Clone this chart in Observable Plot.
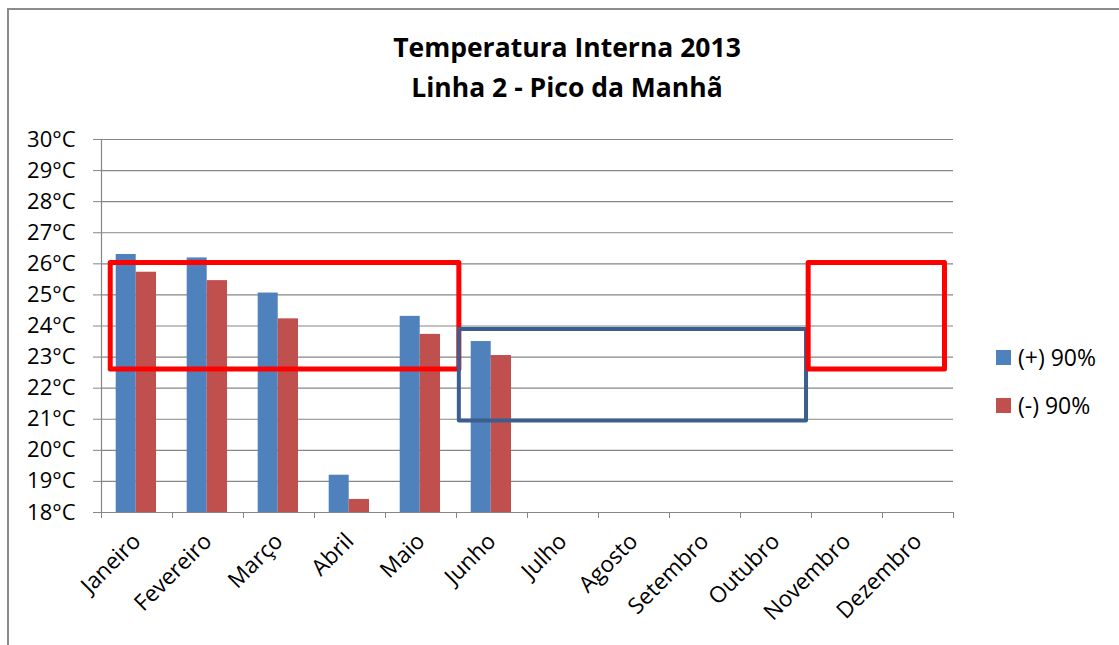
<!DOCTYPE html>
<html>
<head>
<meta charset="utf-8">
<script src="https://cdn.jsdelivr.net/npm/d3@7"></script>
<script src="https://cdn.jsdelivr.net/npm/@observablehq/plot@0.6"></script>
<style>
  html, body { margin: 0; padding: 0; background: #fff; }
  #wrap { position: relative; width: 1119px; height: 645px; overflow: hidden; font-family: "Open Sans", "Noto Sans", sans-serif; }
  #border { position: absolute; left: 7px; top: 8px; width: 1200px; height: 700px; border-left: 2px solid #8c8c8c; border-top: 2px solid #8c8c8c; }
  .title { position: absolute; left: 0; width: 1134px; text-align: center; font-weight: bold; font-size: 26.5px; line-height: 32px; color: #000; }
  .leg { position: absolute; left: 996px; font-size: 23px; color: #000; }
  .leg span.sw { position: absolute; left: 0; width: 15px; height: 15px; }
  .leg span.tx { position: absolute; left: 22px; white-space: nowrap; line-height: 24px; }
  #chart { position: absolute; left: 0; top: 0; }
</style>
</head>
<body>
<div id="wrap">
  <div id="border"></div>
  <div id="chart"></div>
  <div class="title" style="top:31px">Temperatura Interna 2013</div>
  <div class="title" style="top:71px">Linha 2 - Pico da Manhã</div>
  <div class="leg" style="top:350px"><span class="sw" style="background:#4F81BD"></span><span class="tx" style="top:-5px">(+) 90%</span></div>
  <div class="leg" style="top:398px"><span class="sw" style="background:#C0504D"></span><span class="tx" style="top:-5px">(-) 90%</span></div>
</div>
<script>
const months = ["Janeiro","Fevereiro","Março","Abril","Maio","Junho","Julho","Agosto","Setembro","Outubro","Novembro","Dezembro"];
const plus90  = [26.30, 26.19, 25.06, 19.20, 24.31, 23.50];
const minus90 = [25.73, 25.46, 24.23, 18.42, 23.73, 23.05];
const yTicks = [18,19,20,21,22,23,24,25,26,27,28,29,30];

// hand-drawn highlight boxes (month-index span, temperature span)
const boxStart = [0.13, 5.04, 9.96];
const boxEnd   = [5.04, 9.93, 11.88];
const boxLow   = [22.60, 20.94, 22.60];
const boxHigh  = [26.03, 23.89, 26.03];
const boxColor = ["#FF0000", "#3B5E8E", "#FF0000"];
const boxWidth = [5, 4, 5];

const blue = plus90.map((v, i) => ({i, v}));
const red = minus90.map((v, i) => ({i, v}));
const boxes = boxStart.map((s, k) => ({s, e: boxEnd[k], lo: boxLow[k], hi: boxHigh[k], c: boxColor[k], w: boxWidth[k]}));
const labels = months.map((m, i) => ({m, i}));

const chart = Plot.plot({
  width: 1119,
  height: 645,
  marginLeft: 101,
  marginRight: 166,
  marginTop: 139,
  marginBottom: 133,
  style: {fontFamily: "'Open Sans', 'Noto Sans', sans-serif", fontSize: "22px", color: "#000", background: "transparent"},
  x: {domain: [0, 12], axis: null},
  y: {domain: [18, 30], axis: null},
  marks: [
    Plot.ruleY(yTicks, {stroke: "#868686", strokeWidth: 1.2}),
    Plot.axisY({ticks: yTicks, tickFormat: d => d + "°C", tickSize: 8, tickPadding: 18, stroke: "#868686", fontSize: 22, fill: "#000"}),
    Plot.ruleX([0], {stroke: "#868686", strokeWidth: 1.2}),
    Plot.axisX({ticks: d3.range(0, 13), tickFormat: () => "", tickSize: 6, stroke: "#868686"}),
    Plot.rect(blue, {x1: d => d.i + 0.207, x2: d => d.i + 0.489, y1: d => 18, y2: "v", fill: "#4F81BD"}),
    Plot.rect(red, {x1: d => d.i + 0.489, x2: d => d.i + 0.775, y1: d => 18, y2: "v", fill: "#C0504D"}),
    Plot.rect(boxes, {x1: "s", x2: "e", y1: "lo", y2: "hi", fill: "none", stroke: "c", strokeWidth: "w", strokeLinejoin: "round"}),
    Plot.text(labels, {x: d => d.i + 0.5, y: d => 18, text: "m", rotate: -45, textAnchor: "end", dx: 0, dy: 25, fontSize: 22.5, fill: "#000"})
  ]
});
document.getElementById("chart").appendChild(chart);
</script>
</body>
</html>
